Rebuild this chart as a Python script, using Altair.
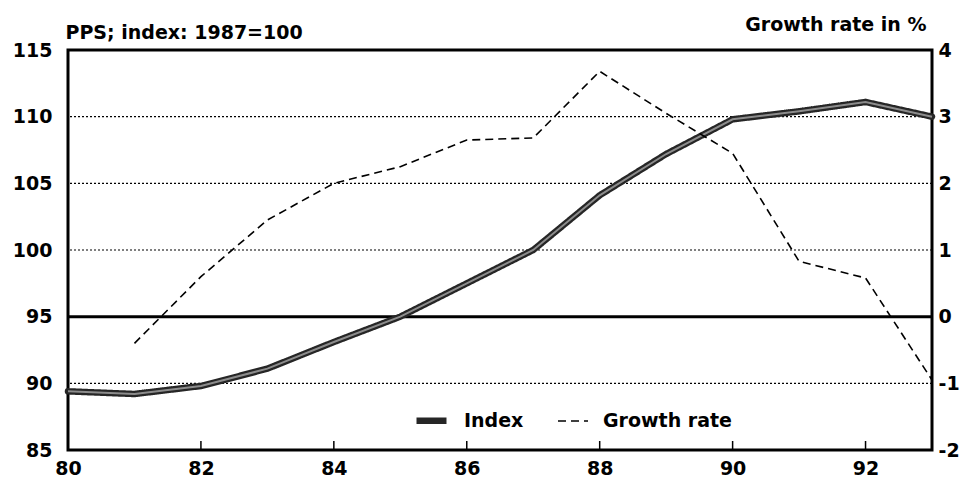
import altair as alt
import pandas as pd

# ---- data ----
years = list(range(80, 94))
index_values = [89.4, 89.2, 89.8, 91.1, 93.1, 95.0, 97.5, 100.0, 104.1, 107.2, 109.8, 110.4, 111.1, 110.0]
growth_years = list(range(81, 94))
growth_values = [-0.4, 0.6, 1.45, 2.0, 2.25, 2.65, 2.68, 3.68, 3.05, 2.45, 0.83, 0.58, -0.95]
grid_dotted = [90, 100, 105, 110]
grid_zero = [95]
x_label_values = [80, 82, 84, 86, 88, 90, 92]
x_inner_ticks = [82, 84, 86, 88, 90, 92]
left_ticks = [85, 90, 95, 100, 105, 110, 115]
right_ticks = [-2, -1, 0, 1, 2, 3, 4]
series = ["Index", "Growth rate"]

idx_df = pd.DataFrame({"year": years, "value": index_values, "series": "Index"})
gr_df = pd.DataFrame({"year": growth_years, "value": growth_values, "series": "Growth rate"})

W, H = 864, 400
FONT = "DejaVu Sans"
FS = 19

x_scale = alt.Scale(domain=[80, 93], nice=False, zero=False)
y_idx = alt.Scale(domain=[85, 115], nice=False, zero=False)
y_gr = alt.Scale(domain=[-2, 4], nice=False, zero=False)

color_scale = alt.Scale(domain=series, range=["#262626", "black"])
dash_scale = alt.Scale(domain=series, range=[[1, 0], [8, 5]])
width_scale = alt.Scale(domain=series, range=[6.5, 1.6])
legend = alt.Legend(
    title=None, orient="none", legendX=345, legendY=352, direction="horizontal",
    symbolType="stroke", symbolSize=900, labelFontSize=FS, labelFontWeight="bold",
    labelFont=FONT, columnPadding=30, labelOffset=14, labelColor="black",
)

x_axis = alt.Axis(values=x_label_values, format="d", ticks=False, domain=False, grid=False,
                  labelFontSize=FS, labelFontWeight="bold", labelFont=FONT, labelColor="black",
                  labelPadding=9, labelFlush=False, title=None)

left_axis = alt.Axis(values=left_ticks, ticks=False, domain=False, grid=False,
                     labelFontSize=FS, labelFontWeight="bold", labelFont=FONT, labelColor="black",
                     labelPadding=16, labelFlush=False,
                     title="PPS; index: 1987=100", titleAngle=0, titleAlign="left",
                     titleBaseline="bottom", titleX=-3, titleY=-8, titleFontSize=FS,
                     titleFontWeight="bold", titleFont=FONT, titleColor="black")

right_axis = alt.Axis(orient="right", values=right_ticks, ticks=False, domain=False, grid=False,
                      labelFontSize=FS, labelFontWeight="bold", labelFont=FONT, labelColor="black",
                      labelPadding=6, labelFlush=False,
                      labelExpr="datum.value < 0 ? '-' + toString(-datum.value) : toString(datum.value)",
                      title="Growth rate in %", titleAngle=0, titleAlign="right",
                      titleBaseline="bottom", titleX=-6, titleY=-16, titleFontSize=FS,
                      titleFontWeight="bold", titleFont=FONT, titleColor="black")


def X(field):
    return alt.X(field, scale=x_scale, axis=x_axis, title=None)


def YL(field):
    return alt.Y(field, scale=y_idx, axis=left_axis, title="PPS; index: 1987=100")


grid_layer = alt.Chart(pd.DataFrame({"year": [80] * len(grid_dotted), "value": grid_dotted})).mark_rule(
    color="black", strokeWidth=1.2, strokeDash=[2, 2]
).encode(y=YL("value:Q"))

zero_layer = alt.Chart(pd.DataFrame({"year": [80], "value": grid_zero})).mark_rule(
    color="black", strokeWidth=3
).encode(y=YL("value:Q"))

tick_layer = alt.Chart(pd.DataFrame({"year": x_inner_ticks})).mark_rule(
    color="black", strokeWidth=1.5
).encode(x=X("year:Q"), y=alt.value(H), y2=alt.value(H - 9))

index_line = alt.Chart(idx_df).mark_line(strokeCap="round", strokeJoin="round").encode(
    x=X("year:Q"),
    y=YL("value:Q"),
    color=alt.Color("series:O", scale=color_scale, legend=legend),
    strokeDash=alt.StrokeDash("series:O", scale=dash_scale, legend=legend),
    strokeWidth=alt.StrokeWidth("series:O", scale=width_scale, legend=legend),
)

index_inner = alt.Chart(idx_df).mark_line(color="#8c8c8c", strokeWidth=2).encode(
    x=X("year:Q"),
    y=YL("value:Q"),
)

left_group = alt.layer(grid_layer, zero_layer, tick_layer, index_line, index_inner)

growth_line = alt.Chart(gr_df).mark_line().encode(
    x=X("year:Q"),
    y=alt.Y("value:Q", scale=y_gr, axis=right_axis, title="Growth rate in %"),
    color=alt.Color("series:O", scale=color_scale, legend=legend),
    strokeDash=alt.StrokeDash("series:O", scale=dash_scale, legend=legend),
    strokeWidth=alt.StrokeWidth("series:O", scale=width_scale, legend=legend),
)

chart = alt.layer(left_group, growth_line).resolve_scale(y="independent").properties(
    width=W, height=H,
    padding={"left": 60, "top": 42, "right": 28, "bottom": 32},
    autosize=alt.AutoSizeParams(type="none"),
    background="white",
).configure_view(stroke="black", strokeWidth=3)

chart.save("out.html", embed_options={"renderer": "svg", "actions": False})
